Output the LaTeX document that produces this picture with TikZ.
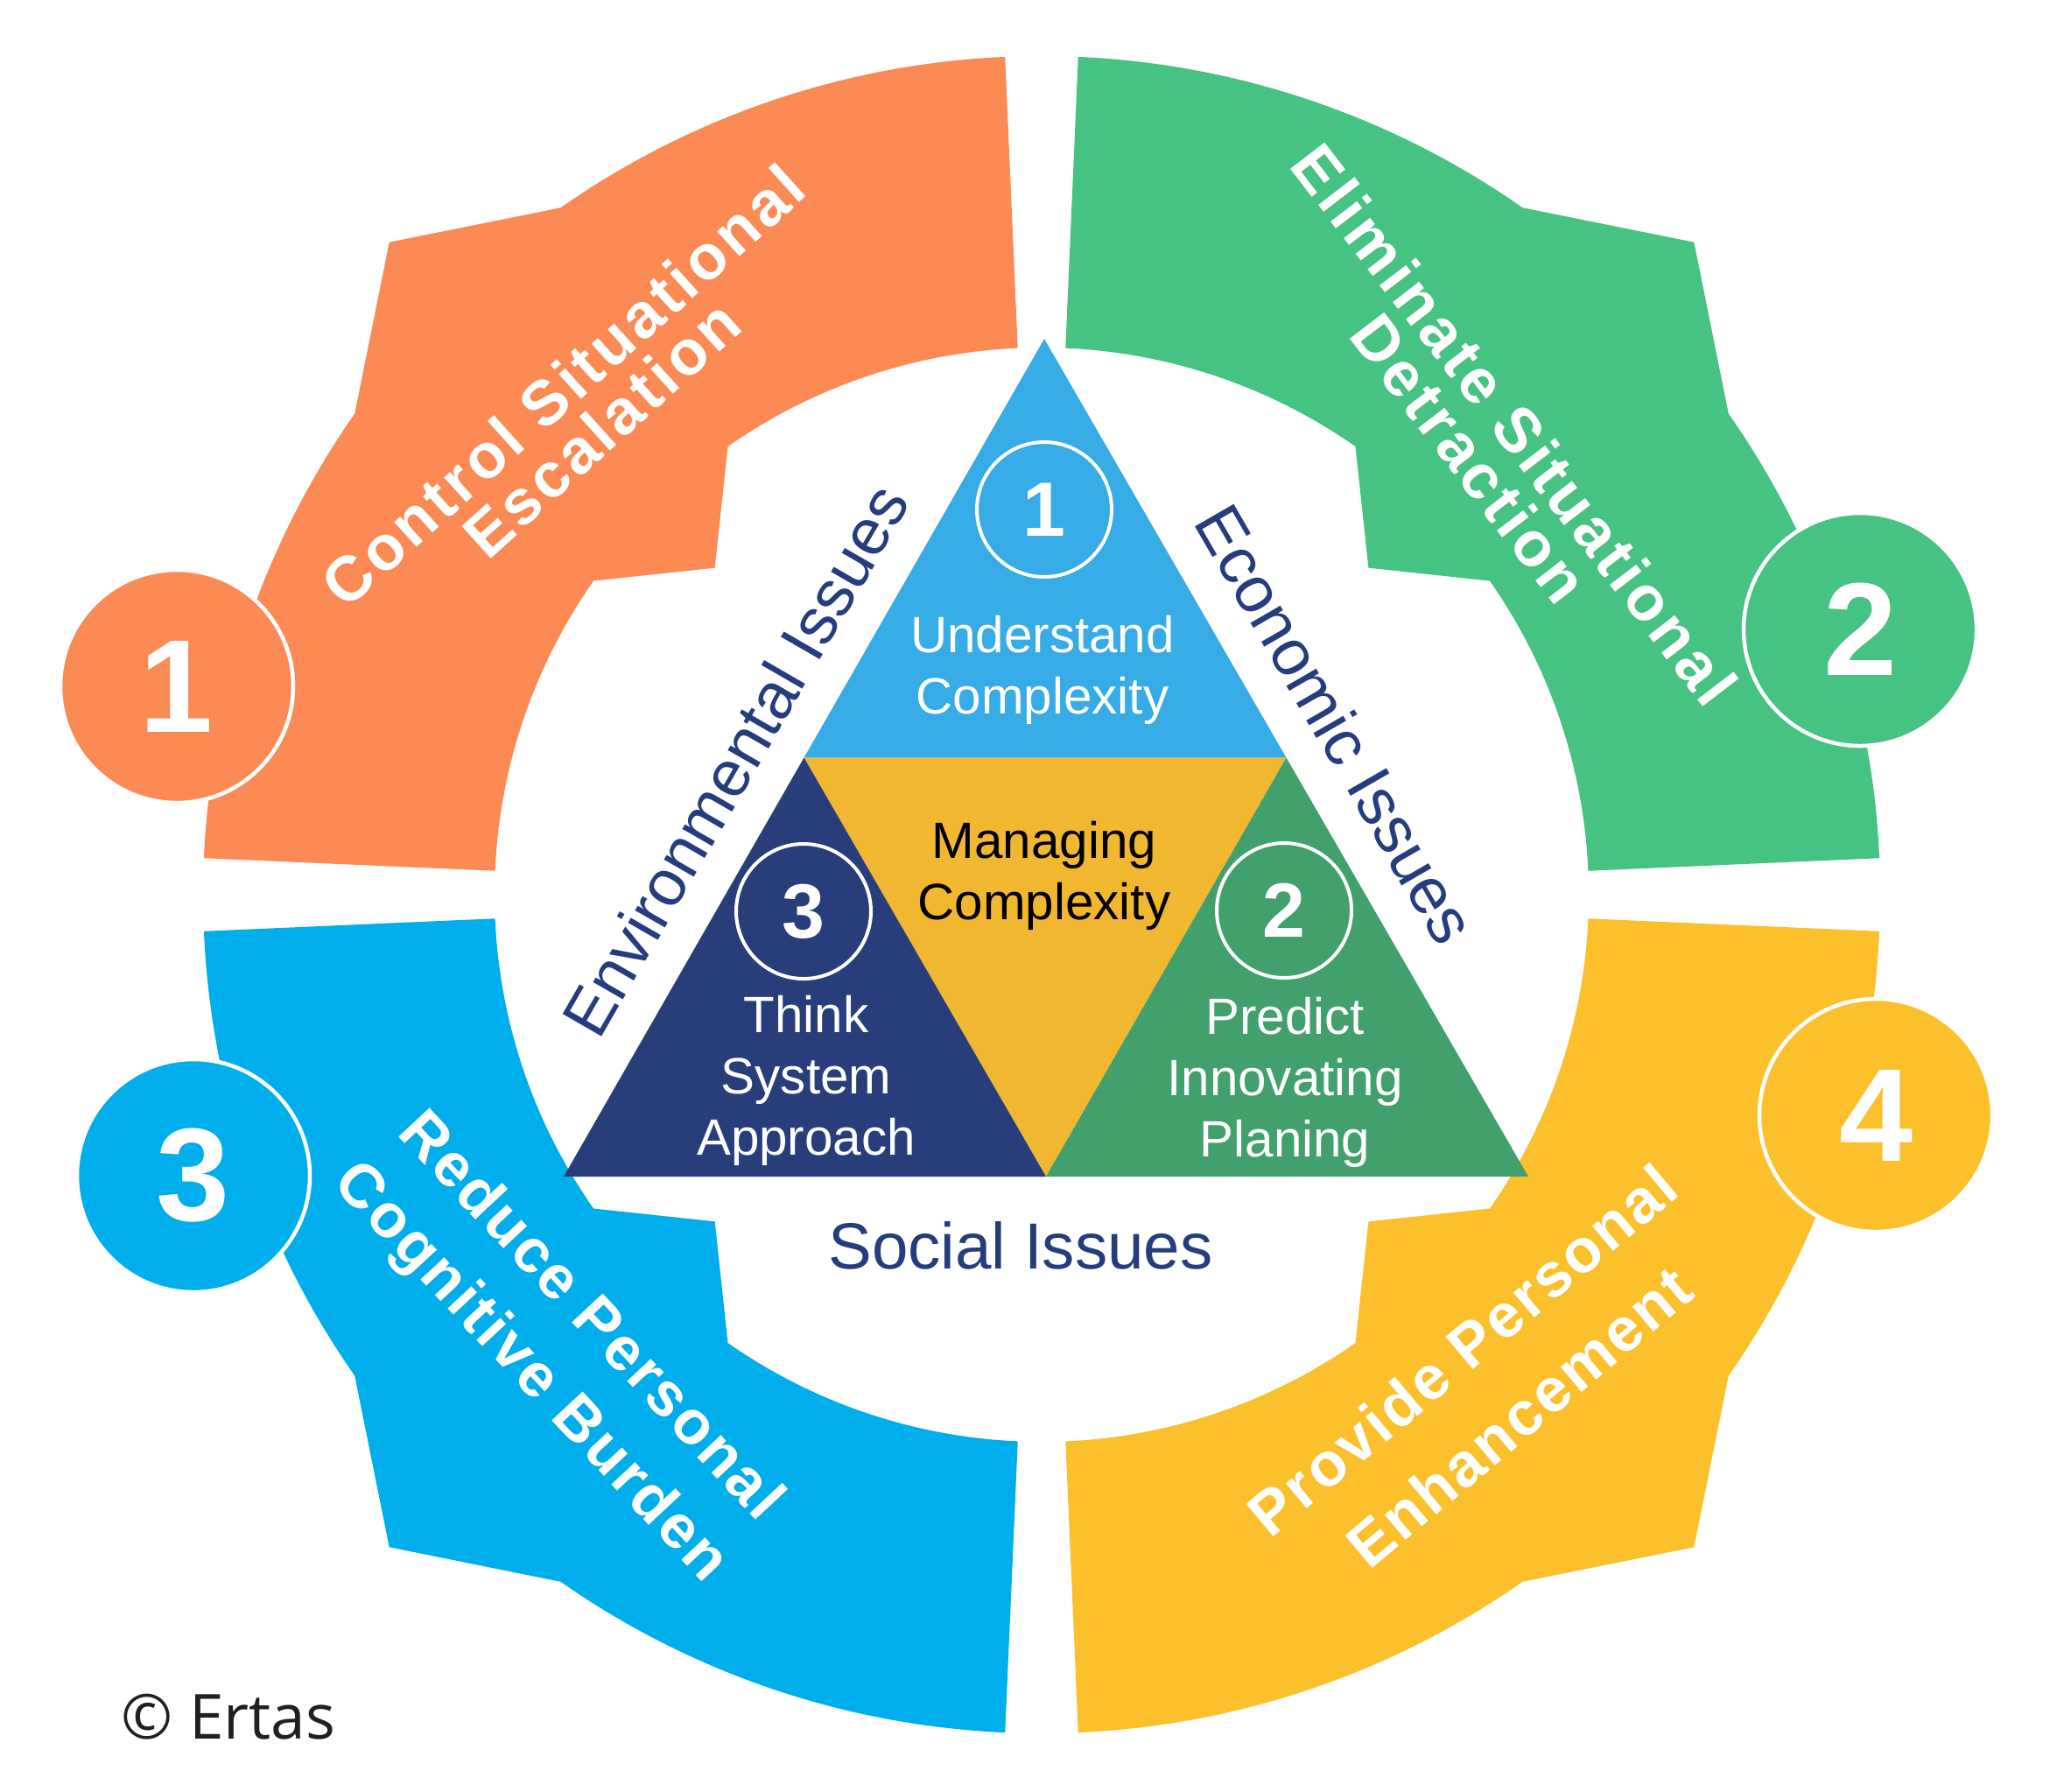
\documentclass[tikz,border=0pt]{standalone}
\usepackage{fontspec}
\setmainfont{Liberation Sans}
\newfontfamily\copyfont{Open Sans}
\newfontfamily\segfont[LetterSpace=5.5]{Liberation Sans}
\newfontfamily\seglowfont[LetterSpace=4]{Liberation Sans}

\definecolor{segorange}{HTML}{FC8A55}
\definecolor{seggreen}{HTML}{46C283}
\definecolor{segblue}{HTML}{00AEEC}
\definecolor{segyellow}{HTML}{FDC02D}
\definecolor{triblue}{HTML}{36ABE6}
\definecolor{trigold}{HTML}{F2B730}
\definecolor{trinavy}{HTML}{273E7A}
\definecolor{trigreen}{HTML}{41A06B}
\definecolor{issuenavy}{HTML}{253C7D}
\definecolor{copygray}{HTML}{231F20}

% one quarter of the ring, turned round the centre
\newcommand{\ringpart}[2]{%
  \fill[#2,shift={(11.90,-10.22)},rotate=#1]
    (92.5:9.58) arc[start angle=92.5,end angle=125,radius=9.58]
    -- (135:10.54) -- (145:9.58)
    arc[start angle=145,end angle=177.5,radius=9.58]
    -- (177.5:6.25) arc[start angle=177.5,end angle=145,radius=6.25]
    -- (135:5.28) -- (125:6.25)
    arc[start angle=125,end angle=92.5,radius=6.25] -- cycle;}

\begin{document}
\begin{tikzpicture}[
    bignum/.style={circle,draw=white,line width=0.045cm,minimum size=2.66cm,inner sep=0pt,
      text=white,font=\bfseries\fontsize{43}{43}\selectfont},
    smallnum/.style={circle,draw=white,line width=0.04cm,minimum size=1.54cm,inner sep=0pt,
      text=white,font=\bfseries\fontsize{25}{25}\selectfont},
    segtext/.style={text=white,align=center,inner sep=0pt},
    tritext/.style={align=center,inner sep=0pt,font=\fontsize{16.6}{19.9}\selectfont},
    issue/.style={text=issuenavy,inner sep=0pt,font=\fontsize{21.2}{24}\selectfont}]

\useasboundingbox (0,0) rectangle (23.5,-20.46);

% ring
\ringpart{0}{segorange}
\ringpart{-90}{seggreen}
\ringpart{90}{segblue}
\ringpart{180}{segyellow}

\node[bignum,fill=segorange] (n1) at (2.02,-7.84) {1};
\node[bignum,fill=seggreen] (n2) at (21.25,-7.19) {2};
\node[bignum,fill=segblue] (n3) at (2.21,-13.43) {3};
\node[bignum,fill=segyellow] (n4) at (21.43,-12.74) {4};

\node[segtext,rotate=42,font=\segfont\bfseries\fontsize{20.5}{18.8}\selectfont] (s1) at (6.65,-4.65)
  {Control Situational\\Escalation};
\node[segtext,rotate=-52.5,font=\segfont\bfseries\fontsize{20.5}{18.4}\selectfont] (s2) at (17.05,-5.04)
  {Eliminate Situational\\Detraction};
\node[segtext,rotate=-47,font=\seglowfont\bfseries\fontsize{20}{26.5}\selectfont] (s3) at (6.39,-15.37)
  {Reduce Personal\\Cognitive Burden};
\node[segtext,rotate=40,font=\seglowfont\bfseries\fontsize{20}{28.5}\selectfont] (s4) at (17.03,-15.80)
  {Provide Personal\\Enhancement};

% triangle
\coordinate (top) at (11.93,-3.87);
\coordinate (bl) at (6.44,-13.44);
\coordinate (br) at (17.46,-13.44);
\coordinate (ml) at (9.185,-8.655);
\coordinate (mr) at (14.695,-8.655);
\coordinate (mb) at (11.95,-13.44);

\fill[triblue] (top) -- (ml) -- (mr) -- cycle;
\fill[trigold] (ml) -- (mr) -- (mb) -- cycle;
\fill[trinavy] (ml) -- (mb) -- (bl) -- cycle;
\fill[trigreen] (mr) -- (br) -- (mb) -- cycle;

\node[smallnum] (c1) at (11.93,-5.82) {1};
\node[smallnum] (c3) at (9.18,-10.41) {3};
\node[smallnum] (c2) at (14.67,-10.40) {2};

\node[tritext,text=white] (t1) at (11.91,-7.65) {Understand\\Complexity};
\node[tritext] (t0) at (11.93,-10.00) {Managing\\Complexity};
\node[tritext,text=white] (t3) at (9.21,-12.34) {Think\\System\\Approach};
\node[tritext,text=white] (t2) at (14.68,-12.36) {Predict\\Innovating\\Planing};

\node[issue,rotate=60] (env) at (8.40,-8.68) {Environmental Issues};
\node[issue,rotate=-60] (eco) at (15.26,-8.27) {Economic Issues};
\node[issue] (soc) at (11.66,-14.23) {Social Issues};

\node[anchor=base west,inner sep=0pt,text=copygray,font=\copyfont\fontsize{20.2}{24}\selectfont]
  (copy) at (1.38,-19.86) {© Ertas};
\end{tikzpicture}
\end{document}
